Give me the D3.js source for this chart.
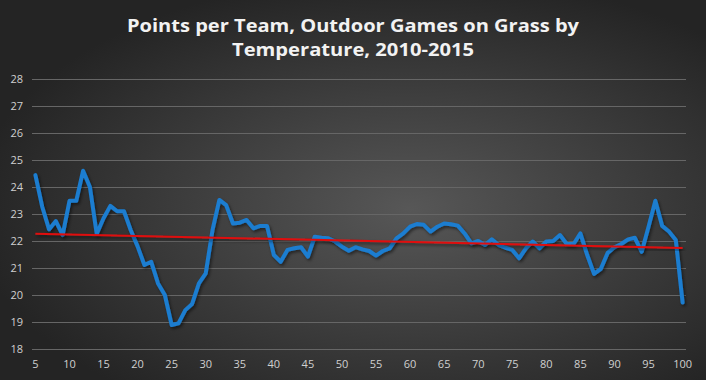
<!DOCTYPE html>
<html>
<head>
<meta charset="utf-8">
<script src="https://cdn.jsdelivr.net/npm/d3@7"></script>
<style>
    html, body { margin: 0; padding: 0; background: #2a2a2a; }
    svg { display: block; }
    .tick-label { font-family: "Open Sans", "Noto Sans", sans-serif; font-size: 11px; fill: #d0d0d0; }
</style>
</head>
<body>
<svg id="chart"></svg>
<script>
// data
var temperatures = d3.range(5, 101);
var pointsPerTeam = [
    24.44, 23.27, 22.43, 22.74, 22.22, 23.49, 23.49, 24.60, 24.00, 22.26,
    22.84, 23.30, 23.10, 23.10, 22.40, 21.80, 21.11, 21.23, 20.43, 20.00,
    18.89, 18.95, 19.44, 19.67, 20.43, 20.80, 22.41, 23.52, 23.33, 22.65,
    22.68, 22.78, 22.47, 22.56, 22.56, 21.48, 21.23, 21.67, 21.73, 21.77,
    21.42, 22.16, 22.12, 22.10, 21.98, 21.79, 21.64, 21.77, 21.69, 21.63,
    21.46, 21.63, 21.73, 22.10, 22.28, 22.53, 22.63, 22.60, 22.35, 22.53,
    22.65, 22.62, 22.57, 22.28, 21.91, 22.00, 21.85, 22.06, 21.85, 21.75,
    21.67, 21.36, 21.73, 21.98, 21.73, 21.98, 22.00, 22.22, 21.89, 21.89,
    22.28, 21.48, 20.78, 20.97, 21.56, 21.77, 21.89, 22.06, 22.12, 21.60,
    22.53, 23.49, 22.56, 22.35, 22.04, 19.72
];
var yTicks = [18, 19, 20, 21, 22, 23, 24, 25, 26, 27, 28];
var xTickLabels = [5, 10, 15, 20, 25, 30, 35, 40, 45, 50, 55, 60, 65, 70, 75, 80, 85, 90, 95, 100];
var titleLines = ["Points per Team, Outdoor Games on Grass by", "Temperature, 2010-2015"];

//-------------------
// SETUP
//-------------------
var width = 706, height = 380;
var plot = { left: 32, right: 686, top: 79, bottom: 349 };

var svg = d3.select("#chart")
    .attr("width", width)
    .attr("height", height);

var defs = svg.append("defs");
var bg = defs.append("radialGradient")
    .attr("id", "bg")
    .attr("cx", "58%").attr("cy", "55%").attr("r", "62%");
bg.append("stop").attr("offset", "0%").attr("stop-color", "#575757");
bg.append("stop").attr("offset", "100%").attr("stop-color", "#242424");

var shadow = defs.append("filter").attr("id", "shadow")
    .attr("x", "-5%").attr("y", "-20%").attr("width", "110%").attr("height", "140%");
shadow.append("feDropShadow")
    .attr("dx", 1.5).attr("dy", 2)
    .attr("stdDeviation", 1.5)
    .attr("flood-color", "#000").attr("flood-opacity", 0.5);

svg.append("rect")
    .attr("width", width).attr("height", height)
    .attr("fill", "url(#bg)");

var x = d3.scaleBand()
    .domain(temperatures)
    .range([plot.left, plot.right]);

var y = d3.scaleLinear()
    .domain([18, 28])
    .range([plot.bottom, plot.top]);

var xPos = function (t) { return x(t) + x.bandwidth() / 2; };

//-------------------
// TITLE
//-------------------
svg.selectAll("text.title").data(titleLines)
    .enter()
    .append("text")
    .attr("class", "title")
    .attr("x", width / 2)
    .attr("y", (d, i) => 32 + i * 24)
    .attr("text-anchor", "middle")
    .attr("font-family", "'Open Sans', 'Noto Sans', sans-serif")
    .attr("font-weight", "bold")
    .attr("font-size", 18)
    .attr("fill", "#f2f2f2")
    .attr("textLength", (d, i) => i === 0 ? 452 : 242)
    .attr("lengthAdjust", "spacingAndGlyphs")
    .text(d => d);

//-------------------
// GRID + AXES
//-------------------
var yAxis = d3.axisLeft(y)
    .tickValues(yTicks)
    .tickSize(-(plot.right - plot.left))
    .tickPadding(9)
    .tickFormat(d3.format("d"));

var gy = svg.append("g")
    .attr("transform", "translate(" + plot.left + ",0)")
    .call(yAxis);
gy.select(".domain").remove();
gy.selectAll(".tick line").attr("stroke", "#666666").attr("stroke-width", 1);
gy.selectAll(".tick text").attr("class", "tick-label").attr("text-anchor", "end").attr("dy", "0.35em");

var xAxis = d3.axisBottom(x)
    .tickValues(xTickLabels)
    .tickSize(0)
    .tickPadding(11);

var gx = svg.append("g")
    .attr("transform", "translate(0," + plot.bottom + ")")
    .call(xAxis);
gx.select(".domain").remove();
gx.selectAll(".tick text").attr("class", "tick-label");

//-------------------
// DATA LINE
//-------------------
var series = temperatures.map((t, i) => ({ t: t, v: pointsPerTeam[i] }));

var line = d3.line()
    .x(d => xPos(d.t))
    .y(d => y(d.v));

svg.append("path")
    .datum(series)
    .attr("fill", "none")
    .attr("stroke", "#1a7dd0")
    .attr("stroke-width", 4)
    .attr("stroke-linejoin", "round")
    .attr("stroke-linecap", "round")
    .attr("filter", "url(#shadow)")
    .attr("d", line);

//-------------------
// LINEAR TRENDLINE
//-------------------
var n = series.length;
var mx = d3.mean(series, d => d.t), my = d3.mean(series, d => d.v);
var slope = d3.sum(series, d => (d.t - mx) * (d.v - my)) / d3.sum(series, d => (d.t - mx) * (d.t - mx));
var intercept = my - slope * mx;
var trend = [series[0], series[n - 1]].map(d => ({ t: d.t, v: intercept + slope * d.t }));

svg.append("path")
    .datum(trend)
    .attr("fill", "none")
    .attr("stroke", "#e01010")
    .attr("stroke-width", 2)
    .attr("filter", "url(#shadow)")
    .attr("d", line);
</script>
</body>
</html>
